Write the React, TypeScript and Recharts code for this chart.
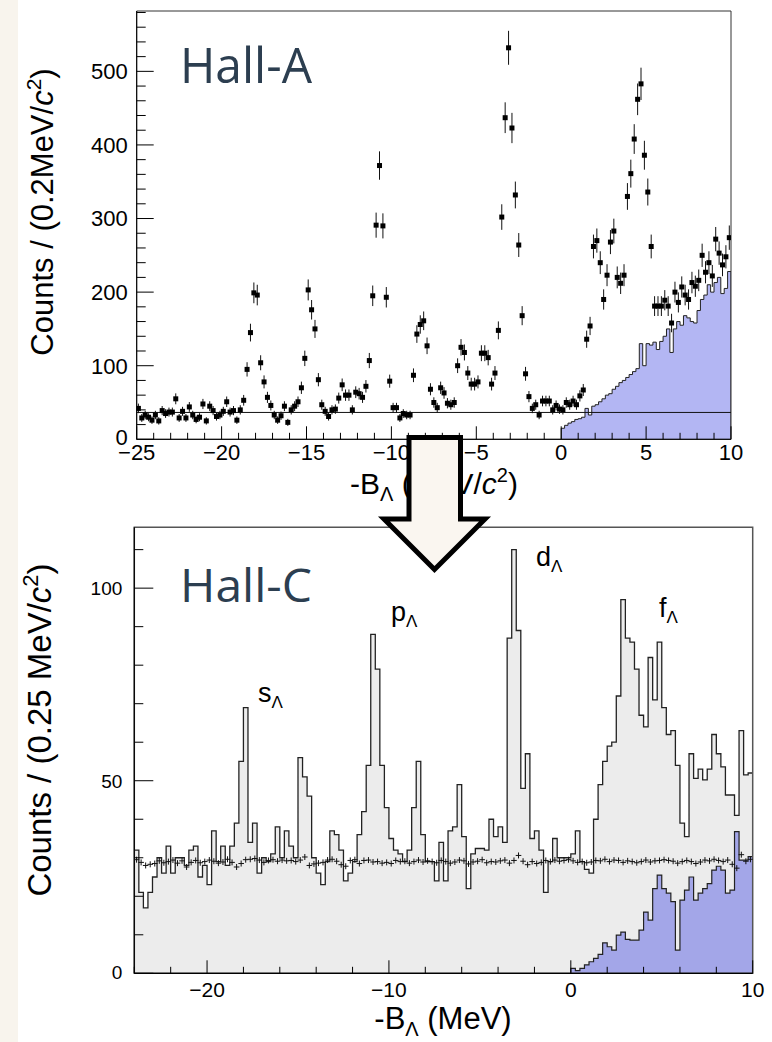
import React from 'react';
import {
  ComposedChart, Area, Scatter, XAxis, YAxis, ErrorBar, ReferenceLine, ReferenceArea,
} from 'recharts';

// ================= Hall-A panel (top) =================
const hallABinStart = -25;
const hallABinWidth = 0.2;
// counts per 0.2 MeV bin, from -25.0 to 10.0 (175 bins)
const hallACounts = [
  42, 29, 33, 30, 26, 33, 25, 39, 35, 37,
  37, 55, 29, 38, 29, 44, 33, 27, 30, 48,
  25, 45, 39, 31, 33, 38, 51, 37, 39, 26,
  40, 53,
  95, 145, 199, 196, 104, 78, 57, 46, 33, 26,
  32, 45, 23, 40, 45, 51, 70, 110, 203, 176,
  150, 81, 47, 38, 31, 40, 41, 56, 74, 60,
  60, 40, 64, 62, 57, 72, 107, 195, 291, 372,
  290, 193, 79, 43, 43, 29, 35, 33, 33, 87,
  143, 156, 161, 127, 68, 50, 43, 70, 63, 49,
  47, 50, 100, 125, 118, 90, 75, 75, 78, 117,
  117, 111, 75, 90, 148, 302, 437, 532, 423, 332,
  264, 168, 89, 58, 42, 47, 33, 52, 52, 52,
  40, 46, 41, 40, 50, 47, 52, 47, 59, 67,
  136, 154, 262, 270, 240, 190, 223, 268, 283, 220,
  212, 223, 330, 361, 408, 462, 483, 386, 336, 262,
  181, 181, 181, 189, 181, 158, 200, 186, 207, 196,
  190, 213, 208, 216, 250, 227, 240, 222, 272, 253,
  237, 248, 274,
];
const hallAAccidental = 36.5;
const hallABlueStart = 0;
// quasi-free Lambda contribution, 0.2 MeV bins from 0 to 10
const hallABlue = [
  15, 19, 22, 24, 27, 28, 30, 42, 33, 45,
  47, 51, 55, 60, 62, 68, 72, 77, 80, 84,
  88, 92, 96, 130, 100, 130, 128, 132, 122, 133,
  140, 150, 118, 150, 160, 155, 168, 165, 160, 158,
  175, 190, 196, 210, 200, 213, 220, 198, 205, 228,
];
const hallAXTicks = [
  -25, -24, -23, -22, -21, -20, -19, -18, -17, -16, -15, -14, -13, -12, -11, -10, -9, -8,
  -7, -6, -5, -4, -3, -2, -1, 0, 1, 2, 3, 4, 5, 6, 7, 8, 9, 10,
];
const hallAYTicks = [
  0, 20, 40, 60, 80, 100, 120, 140, 160, 180, 200, 220, 240, 260, 280, 300, 320, 340, 360,
  380, 400, 420, 440, 460, 480, 500, 520, 540, 560, 580,
];
const hallAYMax = 582;

// ================= Hall-C panel (bottom) =================
const hallCBinStart = -24;
const hallCBinWidth = 0.25;
// counts per 0.25 MeV bin, from -24 to 10 (136 bins)
const hallCCounts = [
  32, 21, 17, 21, 25, 30, 26, 33, 26, 30,
  30, 28, 32, 33, 25, 28, 23, 37, 29, 33,
  28, 33, 39, 55, 69, 34, 39, 26, 30, 29,
  31, 38, 30, 37, 33, 30, 56, 51, 46, 30,
  26, 23, 29, 37, 36, 32, 24, 26, 29, 36,
  42, 54, 88, 79, 54, 43, 35, 32, 31, 29,
  32, 43, 55, 36, 29, 29, 24, 34, 24, 37,
  38, 49, 35.5, 22, 31, 32.4, 32.4, 32, 40, 35.5,
  38, 34, 87, 110, 89, 48, 57, 35, 37, 32,
  21, 29, 35, 30, 30, 30, 31, 37, 29, 27,
  26, 40, 49, 55, 59, 60, 72, 97, 87, 86,
  79, 67, 64, 82, 71, 86, 69, 62, 63, 54,
  39, 35.5, 57, 50.6, 53, 50.2, 53, 62, 57, 53.6,
  46.3, 46.3, 41, 63, 51.5, 52,
];
// accidental background (crosses)
const hallCAccidental = [
  29.5, 28.8, 28.0, 28.3, 28.5, 29.2, 28.7, 29.0, 29.4, 28.6,
  29.2, 27.6, 28.8, 29.3, 28.7, 29.0, 29.4, 29.1, 28.6, 28.9,
  29.6, 28.8, 27.6, 28.5, 29.5, 29.6, 29.8, 29.4, 28.8, 29.3,
  29.5, 29.1, 29.4, 29.2, 29.3, 29.0, 29.4, 30.2, 28.0, 28.4,
  28.6, 28.8, 29.4, 29.6, 29.1, 28.2, 27.8, 29.3, 29.5, 28.5,
  29.3, 29.4, 28.9, 29.0, 28.6, 28.8, 28.5, 29.3, 29.0, 29.1,
  28.6, 29.0, 29.4, 28.9, 29.2, 29.0, 28.7, 29.3, 29.0, 28.6,
  28.9, 29.4, 29.2, 28.4, 28.9, 29.1, 29.5, 28.7, 29.0, 28.9,
  29.2, 29.4, 28.6, 29.3, 30.6, 29.1, 28.2, 29.0, 28.5, 28.8,
  29.3, 29.0, 29.4, 29.1, 29.3, 29.5, 29.2, 28.8, 29.0, 28.7,
  28.9, 29.3, 29.2, 29.6, 29.0, 29.4, 29.3, 28.8, 29.2, 29.0,
  28.7, 29.0, 29.4, 28.9, 29.2, 29.3, 29.5, 29.3, 29.1, 28.6,
  29.0, 29.3, 29.0, 28.5, 28.9, 29.4, 29.2, 29.6, 29.3, 29.0,
  29.4, 28.3, 27.3, 30.8, 29.1, 29.6,
];
const hallCBlueStart = 0;
// quasi-free Lambda contribution, 0.25 MeV bins from 0 to 10
const hallCBlue = [
  1.3, 0.7, 1.3, 2.2, 3.0, 3.9, 4.9, 7.9, 6.9, 6.0,
  9.9, 10.7, 8.8, 8.6, 8.6, 11.2, 15.9, 13.8, 22.0, 25.5,
  22.0, 20.8, 18.6, 6.0, 19.0, 21.6, 25.0, 19.0, 20.8, 22.0,
  23.3, 26.8, 27.8, 26.8, 20.8, 21.6, 36.8, 29.4, 29.4, 30.3,
];
const hallCXTicks = [-24, -22, -20, -18, -16, -14, -12, -10, -8, -6, -4, -2, 0, 2, 4, 6, 8, 10];
const hallCYTicks = [0, 10, 20, 30, 40, 50, 60, 70, 80, 90, 100, 110];
const hallCYMax = 115.8;

// ================= helpers =================
const FONT = '"Liberation Sans", Arial, Helvetica, sans-serif';

const stepEdges = (start: number, width: number, vals: number[]) => {
  const end = start + width * vals.length;
  return [
    { x: start, v: 0 },
    ...vals.map((v, i) => ({ x: +(start + width * i).toFixed(3), v })),
    { x: +end.toFixed(3), v: vals[vals.length - 1] },
    { x: +end.toFixed(3), v: 0 },
  ];
};

const fmt = (v: number) => (v < 0 ? '\u2212' + Math.abs(v) : String(v));

const makeXTick = (major: number, majorLen: number, minorLen: number, fs: number, dy: number) =>
  (props: any) => {
    const { x, y, payload } = props;
    const v = payload.value;
    const isMajor = Math.abs(v % major) < 1e-6;
    return (
      <g>
        <line x1={x} x2={x} y1={y} y2={y - (isMajor ? majorLen : minorLen)} stroke="#000" strokeWidth={1} />
        {isMajor && (
          <text x={x} y={y + dy} textAnchor="middle" fontSize={fs} fontFamily={FONT} fill="#000">
            {fmt(v)}
          </text>
        )}
      </g>
    );
  };

const makeYTick = (major: number, majorLen: number, minorLen: number, fs: number, gap: number) =>
  (props: any) => {
    const { x, y, payload } = props;
    const v = payload.value;
    const isMajor = Math.abs(v % major) < 1e-6;
    return (
      <g>
        <line x1={x} x2={x + (isMajor ? majorLen : minorLen)} y1={y} y2={y} stroke="#000" strokeWidth={1} />
        {isMajor && (
          <text x={x - gap} y={y} dy={v === 0 ? '0.28em' : '0.36em'} textAnchor="end" fontSize={fs} fontFamily={FONT} fill="#000">
            {fmt(v)}
          </text>
        )}
      </g>
    );
  };

const Square = (p: any) => (
  <rect x={p.cx - 2.5} y={p.cy - 2.5} width={5} height={5} fill="#000" />
);

const Plus = (p: any) => (
  <g stroke="#111" strokeWidth={1}>
    <line x1={p.cx - 2.8} x2={p.cx + 2.8} y1={p.cy} y2={p.cy} />
    <line x1={p.cx} x2={p.cx} y1={p.cy - 3} y2={p.cy + 3} />
  </g>
);

// data built from the arrays
const hallAPoints = hallACounts.map((v, i) => ({
  x: +(hallABinStart + hallABinWidth * (i + 0.5)).toFixed(3),
  v,
  err: Math.sqrt(v),
}));
const hallABlueSteps = stepEdges(hallABlueStart, hallABinWidth, hallABlue);
const hallCSteps = stepEdges(hallCBinStart, hallCBinWidth, hallCCounts);
const hallCBlueSteps = stepEdges(hallCBlueStart, hallCBinWidth, hallCBlue);
const hallCCross = hallCAccidental.map((v, i) => ({
  x: +(hallCBinStart + hallCBinWidth * (i + 0.5)).toFixed(3),
  v,
}));

const TopChart = () => (
  <ComposedChart width={772} height={500} margin={{ top: 11, right: 41, bottom: 20.7, left: 76.7 }}>
    <XAxis
      type="number" dataKey="x" domain={[-25, 10]} allowDataOverflow ticks={hallAXTicks} interval={0}
      height={40} tickSize={0} tickMargin={0} tickLine={false}
      axisLine={{ stroke: '#000', strokeWidth: 1 }}
      tick={makeXTick(5, 13, 6.5, 22, 21)}
    />
    <YAxis
      type="number" dataKey="v" domain={[0, hallAYMax]} allowDataOverflow ticks={hallAYTicks} interval={0}
      width={60} tickSize={0} tickMargin={0} tickLine={false}
      axisLine={{ stroke: '#000', strokeWidth: 1 }}
      tick={makeYTick(100, 17, 9, 22, 9)}
    />
    <Area
      data={hallABlueSteps} dataKey="v" type="stepAfter" stroke="#222" strokeWidth={1}
      fill="#b3b6f3" fillOpacity={1} isAnimationActive={false} dot={false} activeDot={false}
    />
    <ReferenceLine y={hallAAccidental} stroke="#111" strokeWidth={1} />
    <Scatter data={hallAPoints} dataKey="v" shape={Square} isAnimationActive={false}>
      <ErrorBar dataKey="err" direction="y" width={0} stroke="#111" strokeWidth={1} />
    </Scatter>
    <ReferenceArea x1={-25} x2={10} y1={0} y2={hallAYMax} fill="none" stroke="#333" strokeWidth={1} ifOverflow="visible" />
  </ComposedChart>
);

const BottomChart = () => (
  <ComposedChart width={772} height={542} margin={{ top: 27.3, right: 19.3, bottom: 28.7, left: 74.3 }}>
    <XAxis
      type="number" dataKey="x" domain={[-24, 10]} allowDataOverflow ticks={hallCXTicks} interval={0}
      height={40} tickSize={0} tickMargin={0} tickLine={false}
      axisLine={{ stroke: '#000', strokeWidth: 1.2 }}
      tick={makeXTick(10, 13, 6.5, 21, 24)}
    />
    <YAxis
      type="number" dataKey="v" domain={[0, hallCYMax]} allowDataOverflow ticks={hallCYTicks} interval={0}
      width={60} tickSize={0} tickMargin={0} tickLine={false}
      axisLine={{ stroke: '#000', strokeWidth: 1.2 }}
      tick={makeYTick(50, 19, 9, 19, 12)}
    />
    <Area
      data={hallCSteps} dataKey="v" type="stepAfter" stroke="#222" strokeWidth={1.3}
      fill="#ececec" fillOpacity={1} isAnimationActive={false} dot={false} activeDot={false}
    />
    <Area
      data={hallCBlueSteps} dataKey="v" type="stepAfter" stroke="#222" strokeWidth={1.2}
      fill="#a3a6e8" fillOpacity={1} isAnimationActive={false} dot={false} activeDot={false}
    />
    <Scatter data={hallCCross} dataKey="v" shape={Plus} isAnimationActive={false} />
    <ReferenceArea x1={-24} x2={10} y1={0} y2={hallCYMax} fill="none" stroke="#555" strokeWidth={1.5} ifOverflow="visible" />
  </ComposedChart>
);

const Sub = ({ children, fs, dy }: any) => (
  <tspan fontSize={fs} dy={dy}>{children}</tspan>
);

const Overlay = () => (
  <svg width={772} height={1042} style={{ position: 'absolute', left: 0, top: 0, pointerEvents: 'none' }}>
    {/* Hall labels */}
    <text x={180} y={83} fontFamily='"Open Sans", "Noto Sans", sans-serif' fontSize={50} fill="#2c3e50"
      textLength={132} lengthAdjust="spacingAndGlyphs">Hall-A</text>
    <text x={180} y={602} fontFamily='"Open Sans", "Noto Sans", sans-serif' fontSize={45} fill="#2c3e50"
      textLength={132} lengthAdjust="spacingAndGlyphs">Hall-C</text>

    {/* top axis titles */}
    <text transform="translate(53,212) rotate(-90)" textAnchor="middle" fontSize={31} fontFamily={FONT} fill="#000">
      Counts / (0.2MeV/<tspan fontStyle="italic">c</tspan>
      <Sub fs={21} dy={-12}>2</Sub>
      <tspan dy={12}>)</tspan>
    </text>
    <text x={434} y={494} textAnchor="middle" fontSize={30} fontFamily={FONT} fill="#000">
      -B<Sub fs={20} dy={7}>Λ</Sub>
      <tspan dy={-7}> (MeV/</tspan>
      <tspan fontStyle="italic">c</tspan>
      <Sub fs={20} dy={-12}>2</Sub>
      <tspan dy={12}>)</tspan>
    </text>

    {/* bottom axis titles */}
    <text transform="translate(51,730) rotate(-90)" textAnchor="middle" fontSize={33} fontFamily={FONT} fill="#000">
      Counts / (0.25 MeV/<tspan fontStyle="italic">c</tspan>
      <Sub fs={22} dy={-13}>2</Sub>
      <tspan dy={13}>)</tspan>
    </text>
    <text x={443} y={1029} textAnchor="middle" fontSize={31} fontFamily={FONT} fill="#000">
      -B<Sub fs={20} dy={7}>Λ</Sub>
      <tspan dy={-7}> (MeV)</tspan>
    </text>

    {/* orbital labels */}
    <text x={258} y={702} fontSize={27} fontFamily={FONT} fill="#000">s<Sub fs={17} dy={6}>Λ</Sub></text>
    <text x={391} y={621} fontSize={27} fontFamily={FONT} fill="#000">p<Sub fs={17} dy={6}>Λ</Sub></text>
    <text x={536} y={566} fontSize={27} fontFamily={FONT} fill="#000">d<Sub fs={17} dy={6}>Λ</Sub></text>
    <text x={659} y={617} fontSize={27} fontFamily={FONT} fill="#000">f<Sub fs={17} dy={6}>Λ</Sub></text>

    {/* arrow */}
    <polygon
      points="409,437.5 460.5,437.5 460.5,519 485,519 434.5,569.5 384,519 409,519"
      fill="#faf6f0" stroke="#000" strokeWidth={5} strokeLinejoin="miter"
    />
  </svg>
);

export default function App() {
  return (
    <div style={{ position: 'absolute', left: 0, top: 0, width: 772, height: 1042, background: '#ffffff', overflow: 'hidden' }}>
      <div style={{ position: 'absolute', left: 0, top: 0, width: 18, height: 1042, background: '#f8f4ed' }} />
      <div style={{ position: 'absolute', left: 0, top: 0 }}>
        <TopChart />
      </div>
      <div style={{ position: 'absolute', left: 0, top: 500 }}>
        <BottomChart />
      </div>
      <Overlay />
    </div>
  );
}
